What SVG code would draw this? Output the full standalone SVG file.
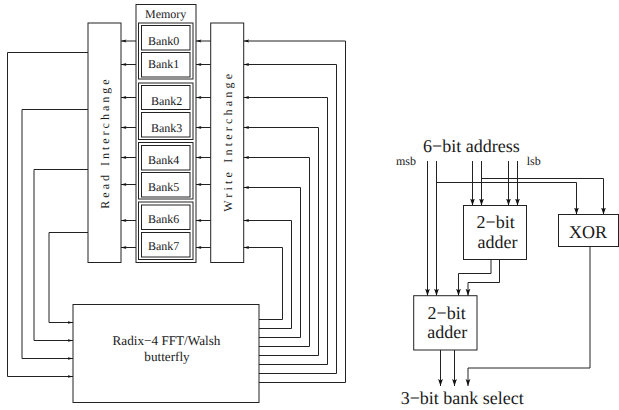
<svg xmlns="http://www.w3.org/2000/svg" width="619" height="410" viewBox="0 0 619 410">
<style>
text{font-family:"Liberation Serif","Times New Roman",serif;fill:#1a1a1a;font-size:12px;text-rendering:geometricPrecision}
.b{fill:none;stroke:#222;stroke-width:1}
.w{fill:none;stroke:#222;stroke-width:1}
.s{marker-end:url(#sa)}
.o{marker-end:url(#oa)}
.l{font-size:18px}
.m{font-size:13.2px}
</style>
<defs>
<marker id="sa" markerUnits="userSpaceOnUse" markerWidth="7" markerHeight="5" refX="5.5" refY="2.5" orient="auto"><path d="M0,1 L5.5,2.5 L0,4 L1.2,2.5 Z" fill="#111"/></marker>
<marker id="oa" markerUnits="userSpaceOnUse" markerWidth="8" markerHeight="6" refX="7" refY="3" orient="auto"><path d="M0,0.6 L7,3 L0,5.4 L1.6,3 Z" fill="#111"/></marker>
</defs>
<g id="memory">
<rect class="b" x="136" y="4.5" width="60" height="258"/>
<text x="145" y="17.5">Memory</text>
<rect class="b" x="138.5" y="23" width="54.5" height="56"/>
<rect class="b" x="138.5" y="83" width="54.5" height="56.5"/>
<rect class="b" x="138.5" y="142.5" width="54.5" height="56.5"/>
<rect class="b" x="138.5" y="202" width="54.5" height="57.5"/>
</g>
<g id="bank0"><rect class="b" x="141.5" y="25.5" width="48.5" height="24.5"/><text x="148" y="44.5">Bank0</text></g>
<g id="bank1"><rect class="b" x="141.5" y="52.5" width="48.5" height="24.5"/><text x="148" y="68">Bank1</text></g>
<g id="bank2"><rect class="b" x="141.5" y="85.5" width="48.5" height="24"/><text x="151" y="104.5">Bank2</text></g>
<g id="bank3"><rect class="b" x="141.5" y="112.5" width="48.5" height="24.5"/><text x="151" y="131.5">Bank3</text></g>
<g id="bank4"><rect class="b" x="141.5" y="145.5" width="48.5" height="24.5"/><text x="148" y="163.5">Bank4</text></g>
<g id="bank5"><rect class="b" x="141.5" y="172.5" width="48.5" height="24.5"/><text x="148" y="190.5">Bank5</text></g>
<g id="bank6"><rect class="b" x="141.5" y="205" width="48.5" height="24.5"/><text x="148" y="223">Bank6</text></g>
<g id="bank7"><rect class="b" x="141.5" y="232.5" width="48.5" height="24.5"/><text x="148" y="250">Bank7</text></g>
<g id="read-interchange"><rect class="b" x="88" y="23" width="33" height="239.5"/><text transform="translate(109 208.7) rotate(-90)" letter-spacing="3">Read Interchange</text></g>
<g id="write-interchange"><rect class="b" x="210.7" y="23" width="33" height="239.5"/><text transform="translate(231.7 211.7) rotate(-90)" letter-spacing="3.2">Write Interchange</text></g>
<g id="butterfly"><rect class="b" x="73" y="304.5" width="186" height="98"/><text class="m" x="166.5" y="345" text-anchor="middle">Radix−4 FFT/Walsh</text><text class="m" x="167" y="360.5" text-anchor="middle">butterfly</text></g>
<g id="adder-1"><rect class="b" x="463.5" y="205.5" width="63" height="54"/><text class="l" x="476.5" y="227.5">2−bit</text><text class="l" x="477.5" y="247.5">adder</text></g>
<g id="adder-2"><rect class="b" x="413.7" y="295.7" width="63.3" height="54.3"/><text class="l" x="427.5" y="319">2−bit</text><text class="l" x="427.3" y="338">adder</text></g>
<g id="xor"><rect class="b" x="558.5" y="214.5" width="60" height="32"/><text class="l" x="569" y="237.7">XOR</text></g>
<g id="labels">
<text class="l" x="423" y="152">6−bit address</text>
<text x="396" y="164.7">msb</text>
<text x="526.7" y="164.7">lsb</text>
<text class="l" x="400.7" y="404">3−bit bank select</text>
</g>
<g id="connectors">
<path class="w s" d="M136,41H121"/><path class="w s" d="M136,64.5H121"/><path class="w s" d="M136,97.5H121"/><path class="w s" d="M136,127.5H121"/><path class="w s" d="M136,157.5H121"/><path class="w s" d="M136,184.5H121"/><path class="w s" d="M136,220.5H121"/><path class="w s" d="M136,247.5H121"/>
<path class="w s" d="M210.7,41H196"/><path class="w s" d="M210.7,64.5H196"/><path class="w s" d="M210.7,97.5H196"/><path class="w s" d="M210.7,127.5H196"/><path class="w s" d="M210.7,157.5H196"/><path class="w s" d="M210.7,184.5H196"/><path class="w s" d="M210.7,220.5H196"/><path class="w s" d="M210.7,247.5H196"/>
<path class="w s" d="M259,382.5H345.5V41H243.7"/>
<path class="w s" d="M259,373.5H336.5V64.5H243.7"/>
<path class="w s" d="M259,364.5H327.5V97.5H243.7"/>
<path class="w s" d="M259,355.5H318.5V127.5H243.7"/>
<path class="w s" d="M259,346.5H309.5V157.5H243.7"/>
<path class="w s" d="M259,337.5H300.5V187.5H243.7"/>
<path class="w s" d="M259,328.5H291.5V220.5H243.7"/>
<path class="w s" d="M259,319.5H282.5V247.5H243.7"/>
<path class="w s" d="M88,52.5H7.5V376.5H73"/>
<path class="w s" d="M88,109.5H22V358.5H73"/>
<path class="w s" d="M88,169.5H34V340.5H73"/>
<path class="w s" d="M88,232.5H49V322.5H73"/>
<path class="w o" d="M427.5,161V295.7"/>
<path class="w o" d="M436.5,161V295.7"/>
<path class="w o" d="M472.5,161V205.5"/>
<path class="w o" d="M481.5,161V205.5"/>
<path class="w o" d="M508.5,161V205.5"/>
<path class="w o" d="M517.5,161V205.5"/>
<path class="w o" d="M436.5,182.5H576.5V214.5"/>
<path class="w o" d="M481.5,178.5H603.5V214.5"/>
<path class="w o" d="M491,259.5V273.5H458.5V295.7"/>
<path class="w o" d="M499.5,259.5V282.5H468V295.7"/>
<path class="w o" d="M440.5,350V386"/>
<path class="w o" d="M454.5,350V386"/>
<path class="w o" d="M590,246.5V368H468V386"/>
</g>
</svg>
